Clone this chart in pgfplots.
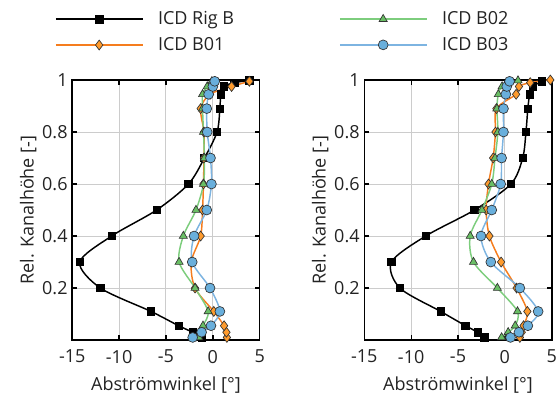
\documentclass[border=0pt]{standalone}
\usepackage{fontspec}
\setmainfont{Open Sans}
\usepackage{pgfplots}
\usepackage{pgfplotstable}
\pgfplotsset{compat=1.18}
\definecolor{cOrL}{RGB}{245,125,30}
\definecolor{cOrF}{RGB}{255,155,45}
\definecolor{cGrL}{RGB}{125,205,125}
\definecolor{cGrF}{RGB}{105,190,100}
\definecolor{cBlL}{RGB}{125,180,225}
\definecolor{cBlF}{RGB}{105,175,220}
\definecolor{txt}{RGB}{35,35,35}

% ---------- data (x = angle, y = rel. height) ----------
\pgfplotstableread{
x y
-1.2 0.01
-2.15 0.03
-3.65 0.055
-6.6 0.11
-12.0 0.2
-14.2 0.3
-10.8 0.4
-6.0 0.5
-2.6 0.6
-0.9 0.7
0.45 0.8
0.75 0.89
0.85 0.945
1.2 0.975
2.3 0.99
3.9 0.998
}\LRigB
\pgfplotstableread{
x y
1.5 0.01
1.45 0.03
1.2 0.055
0.1 0.11
-1.9 0.2
-2.3 0.3
-1.3 0.4
-1.1 0.5
-1.0 0.6
-0.95 0.7
-0.95 0.8
-1.3 0.89
-0.3 0.945
2.0 0.975
3.9 0.995
}\LBa
\pgfplotstableread{
x y
-1.5 0.01
-1.3 0.03
-1.05 0.055
-0.5 0.11
-1.9 0.2
-3.6 0.3
-3.15 0.4
-1.8 0.5
-1.0 0.6
-0.9 0.7
-1.0 0.8
-1.1 0.89
-1.1 0.945
-0.6 0.975
-0.1 0.995
}\LBb
\pgfplotstableread{
x y
-2.15 0.01
-1.2 0.03
-0.2 0.055
0.75 0.11
-0.3 0.2
-2.2 0.3
-2.0 0.4
-0.65 0.5
-0.15 0.6
-0.25 0.7
-0.6 0.8
-0.65 0.89
-0.45 0.945
0.0 0.975
0.2 0.995
}\LBc
\pgfplotstableread{
x y
-2.2 0.01
-2.9 0.03
-4.2 0.055
-6.85 0.11
-11.2 0.2
-12.1 0.3
-8.45 0.4
-3.25 0.5
0.65 0.6
1.9 0.7
2.25 0.8
2.45 0.89
2.65 0.945
3.0 0.975
3.95 0.995
}\RRigB
\pgfplotstableread{
x y
1.6 0.01
1.8 0.03
2.0 0.055
2.4 0.11
1.25 0.2
-0.4 0.3
-1.65 0.4
-2.0 0.5
-1.75 0.6
-1.25 0.7
-1.0 0.8
-0.9 0.89
1.2 0.945
1.5 0.975
2.7 0.99
4.85 1.0
}\RBa
\pgfplotstableread{
x y
-0.35 0.01
0.35 0.03
1.1 0.055
1.35 0.11
-0.8 0.2
-3.35 0.3
-3.7 0.4
-2.45 0.5
-1.4 0.6
-1.05 0.7
-0.75 0.8
-0.85 0.89
-0.7 0.945
-0.3 0.975
1.4 0.998
}\RBb
\pgfplotstableread{
x y
0.6 0.01
1.5 0.03
2.45 0.055
3.55 0.11
1.6 0.2
-1.5 0.3
-2.55 0.4
-1.4 0.5
-0.45 0.6
-0.35 0.7
-0.15 0.8
-0.15 0.89
0.1 0.945
0.2 0.975
0.5 0.995
}\RBc

\pgfplotsset{
  srigb/.style={black, line width=1.1pt, smooth, mark=square*, mark size=2.8pt,
     mark options={fill=black, draw=black, line width=0.5pt}},
  sba/.style={cOrL, line width=1.1pt, smooth, mark=diamond*, mark size=3.7pt,
     mark options={fill=cOrF, draw=black!80, line width=0.5pt}},
  sbb/.style={cGrL, line width=1.1pt, smooth, mark=triangle*, mark size=3.5pt,
     mark options={fill=cGrF, draw=black!80, line width=0.5pt}},
  sbc/.style={cBlL, line width=1.1pt, smooth, mark=*, mark size=3.7pt,
     mark options={fill=cBlF, draw=black!80, line width=0.5pt}},
  myaxis/.style={
    scale only axis, width=140.55pt, height=195pt,
    xmin=-15, xmax=5, ymin=0, ymax=1,
    xtick={-15,-10,-5,0,5}, ytick={0.2,0.4,0.6,0.8,1},
    grid=major, major grid style={line width=0.75pt, color=black!20},
    tick align=inside, major tick length=3.8pt,
    tick style={line width=1pt, black},
    axis line style={line width=1.2pt},
    clip=false,
    font=\fontsize{13.5}{16}\selectfont,
    tick label style={font=\fontsize{13.5}{16}\selectfont, text=txt},
    xticklabel style={yshift=-4pt},
    /pgf/number format/assume math mode=true,
    label style={text=txt},
    xlabel={Abströmwinkel [°]},
    ylabel={Rel. Kanalhöhe [-]},
    xlabel style={at={(axis description cs:0.5,-0.175)}, anchor=center},
    ylabel style={at={(axis description cs:-0.235,0.5)}, anchor=center},
    legend image code/.code={\draw[mark repeat=2, mark phase=2, ##1, line width=1.3pt]
       plot coordinates {(0pt,0pt) (32.5pt,0pt) (65pt,0pt)};},
    legend style={draw=none, fill=none, anchor=north west,
       font=\fontsize{13.5}{16}\selectfont, text=txt,
       legend cell align=left, row sep=5pt,
       nodes={inner ysep=1.5pt, inner xsep=4pt},
       /tikz/every odd column/.append style={column sep=7pt}},
  }
}

\begin{document}
\begin{tikzpicture}
\path[use as bounding box] (-54.2pt,-47.25pt) rectangle (363.5pt,255pt);
\begin{axis}[myaxis, at={(0pt,0pt)}, anchor=south west,
   legend style={at={(axis description cs:-0.115,1.282)}}]
  \addplot[srigb] table[x=x,y=y]{\LRigB};
  \addlegendentry{ICD Rig B}
  \addplot[sba] table[x=x,y=y]{\LBa};
  \addlegendentry{ICD B01}
  \addplot[sbb] table[x=x,y=y]{\LBb};
  \addplot[sbc] table[x=x,y=y]{\LBc};
\end{axis}
\begin{axis}[myaxis, at={(219pt,0pt)}, anchor=south west,
   legend style={at={(axis description cs:-0.158,1.282)}}]
  \addplot[srigb, forget plot] table[x=x,y=y]{\RRigB};
  \addplot[sba, forget plot] table[x=x,y=y]{\RBa};
  \addplot[sbb] table[x=x,y=y]{\RBb};
  \addlegendentry{ICD B02}
  \addplot[sbc] table[x=x,y=y]{\RBc};
  \addlegendentry{ICD B03}
\end{axis}
\end{tikzpicture}
\end{document}
